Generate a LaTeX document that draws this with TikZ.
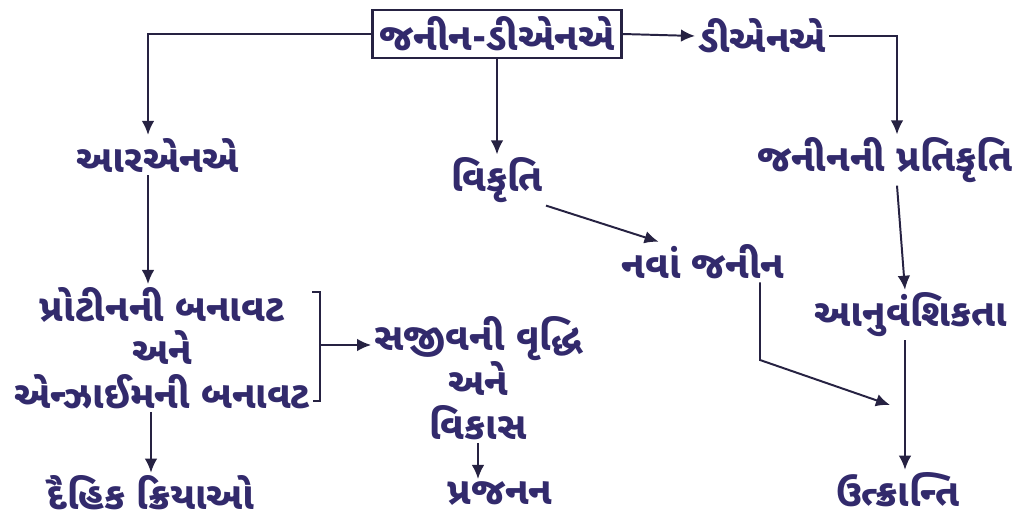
\documentclass[tikz,border=0pt]{standalone}
\usepackage{fontspec}
\newfontfamily\gujfont[Script=Gujarati]{Noto Sans Gujarati UI}
\usepackage{tikz}
\usetikzlibrary{arrows.meta}
\definecolor{ink}{RGB}{50,42,108}
\definecolor{pen}{RGB}{38,34,66}
\tikzset{
	lbl/.style={text=ink, font=\gujfont\bfseries\fontsize{27}{31}\selectfont, inner sep=2pt, align=center},
	arr/.style={-{Latex[length=10pt,width=9pt]}, draw=pen, line width=1.4pt}
}

\begin{document}
\begin{tikzpicture}[x=0.025cm,y=-0.025cm]
		\useasboundingbox (0,0) rectangle (1020,525);
		
		\node [lbl, draw=pen, line width=1.7pt, inner sep=5pt] (gene) at (497,34) {જનીન-ડીએનએ};
		\node [lbl] (dna) at (762,36) {ડીએનએ};
		\node [lbl] (rna) at (158,155) {આરએનએ};
		\node [lbl] (vikruti) at (497,180) {વિકૃતિ};
		\node [lbl] (replica) at (885,160) {જનીનની પ્રતિકૃતિ};
		\node [lbl] (newgene) at (703,262) {નવાં જનીન};
		\node [lbl] (protein) at (162,348) {પ્રોટીનની બનાવટ\\અને\\એન્ઝાઈમની બનાવટ};
		\node [lbl] (growth) at (478,378) {સજીવની વૃદ્ધિ\\અને\\વિકાસ};
		\node [lbl] (heredity) at (911,315) {આનુવંશિકતા};
		\node [lbl] (kriya) at (151,493) {દૈહિક ક્રિયાઓ};
		\node [lbl] (prajanan) at (500,494) {પ્રજનન};
		\node [lbl] (evolution) at (898,490) {ઉત્ક્રાન્તિ};
		
		% free ends
		\coordinate (bend) at (760,360);
		\coordinate (merge) at (890,405);
		\coordinate (brtop) at (312,292);
		\coordinate (brmid) at (320,345);
		\coordinate (brbot) at (313,401);
		
		\draw [arr] (gene.west) -| (rna.north -| 148,0);
		\draw [arr] (gene.east) -- (dna.west);
		\draw [arr] (dna.east) -| ([xshift=0.3cm]replica.north);
		\draw [arr] (gene.south) -- (vikruti.north);
		\draw [arr] (vikruti.south east) -- ([xshift=1cm]newgene.north west);
		\draw [arr] (newgene.south -| bend) -- (bend) -- (merge);
		\draw [arr] ([xshift=0.3cm]replica.south) -- (heredity.north -| 905,0);
		\draw [arr] (heredity.south -| 905,0) -- (evolution.north -| 905,0);
		
		\draw [arr] (rna.south -| 148,0) -- (protein.north -| 148,0);
		\draw [pen, line width=1.4pt] (brtop) -- (brtop -| brmid) -- (brbot -| brmid) -- (brbot);
		\draw [arr] (brmid) -- (brmid -| growth.west);
		\draw [arr] (protein.south -| kriya.north) -- (kriya.north);
		\draw [arr] (growth.south) -- (growth.south |- prajanan.north);
\end{tikzpicture}
\end{document}
